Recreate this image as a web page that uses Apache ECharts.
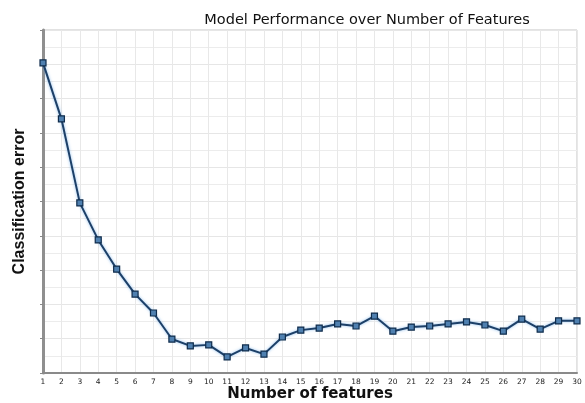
<!DOCTYPE html>
<html>
<head>
<meta charset="utf-8">
<script src="https://cdn.jsdelivr.net/npm/echarts@6/dist/echarts.min.js"></script>
<style>
  html, body { margin: 0; padding: 0; background: #fff; }
  #chart { width: 585px; height: 403px; }
</style>
</head>
<body>
<div id="chart"></div>
<script>
// 特征数量
var features = ['1', '2', '3', '4', '5', '6', '7', '8', '9', '10', '11', '12', '13', '14', '15',
    '16', '17', '18', '19', '20', '21', '22', '23', '24', '25', '26', '27', '28', '29', '30'];
// 分类误差 (y 轴无刻度文字, 数值按图读取)
var errorValues = [9.04, 7.41, 4.96, 3.88, 3.03, 2.30, 1.75, 0.99, 0.79, 0.82,
    0.47, 0.73, 0.55, 1.05, 1.25, 1.31, 1.43, 1.37, 1.66, 1.22,
    1.34, 1.37, 1.43, 1.49, 1.40, 1.22, 1.57, 1.28, 1.52, 1.52];

(function () {
    var myChart = echarts.init(document.getElementById('chart'));
    var option = {
        animation: false,
        title: {
            text: 'Model Performance over Number of Features',
            left: 362,
            top: 8,
            textAlign: 'center',
            textStyle: {
                fontFamily: 'DejaVu Sans',
                fontSize: 14.5,
                fontWeight: 'normal',
                color: '#111'
            }
        },
        grid: {
            left: 43,
            right: 8,
            top: 30,
            bottom: 30,
            outerBoundsMode: 'none',
            containLabel: false,
            show: true,
            borderColor: '#c4c4c4',
            borderWidth: 1
        },
        xAxis: {
            type: 'category',
            data: features,
            boundaryGap: false,
            name: 'Number of features',
            nameLocation: 'middle',
            nameGap: 14,
            nameMoveOverlap: false,
            nameTextStyle: {
                fontFamily: 'DejaVu Sans',
                fontSize: 15,
                fontWeight: 'bold',
                color: '#111'
            },
            axisLine: {
                lineStyle: { color: '#8a8a8a', width: 2 }
            },
            axisTick: { show: false },
            axisLabel: {
                interval: 0,
                margin: 5,
                fontFamily: 'DejaVu Sans',
                fontSize: 7.5,
                color: '#222'
            },
            splitLine: {
                show: true,
                interval: 0,
                lineStyle: { color: '#e8e8e8', width: 1 }
            }
        },
        yAxis: {
            type: 'value',
            min: 0,
            max: 10,
            interval: 1,
            name: 'Classification error',
            nameLocation: 'middle',
            nameGap: 15,
            nameTextStyle: {
                fontFamily: 'Liberation Sans',
                fontSize: 16,
                fontWeight: 'bold',
                color: '#111'
            },
            axisLine: {
                show: true,
                lineStyle: { color: '#8f8f8f', width: 3 }
            },
            axisTick: {
                show: true,
                length: 3,
                lineStyle: { color: '#888' }
            },
            axisLabel: { show: false },
            splitLine: {
                lineStyle: { color: '#e6e6e6', width: 1 }
            },
            minorTick: { show: false, splitNumber: 2 },
            minorSplitLine: {
                show: true,
                lineStyle: { color: '#ececec', width: 1 }
            }
        },
        series: [
            {
                name: 'error',
                type: 'line',
                data: errorValues,
                symbol: 'rect',
                symbolSize: 6,
                showAllSymbol: true,
                lineStyle: {
                    color: '#1d4068',
                    width: 2,
                    shadowColor: 'rgba(90,160,230,0.7)',
                    shadowBlur: 3
                },
                itemStyle: {
                    color: '#4f80b0',
                    borderColor: '#0f2c4c',
                    borderWidth: 1.2
                }
            }
        ]
    };
    myChart.setOption(option);
    window.addEventListener('resize', function () {
        myChart.resize();
    });
})();
</script>
</body>
</html>
